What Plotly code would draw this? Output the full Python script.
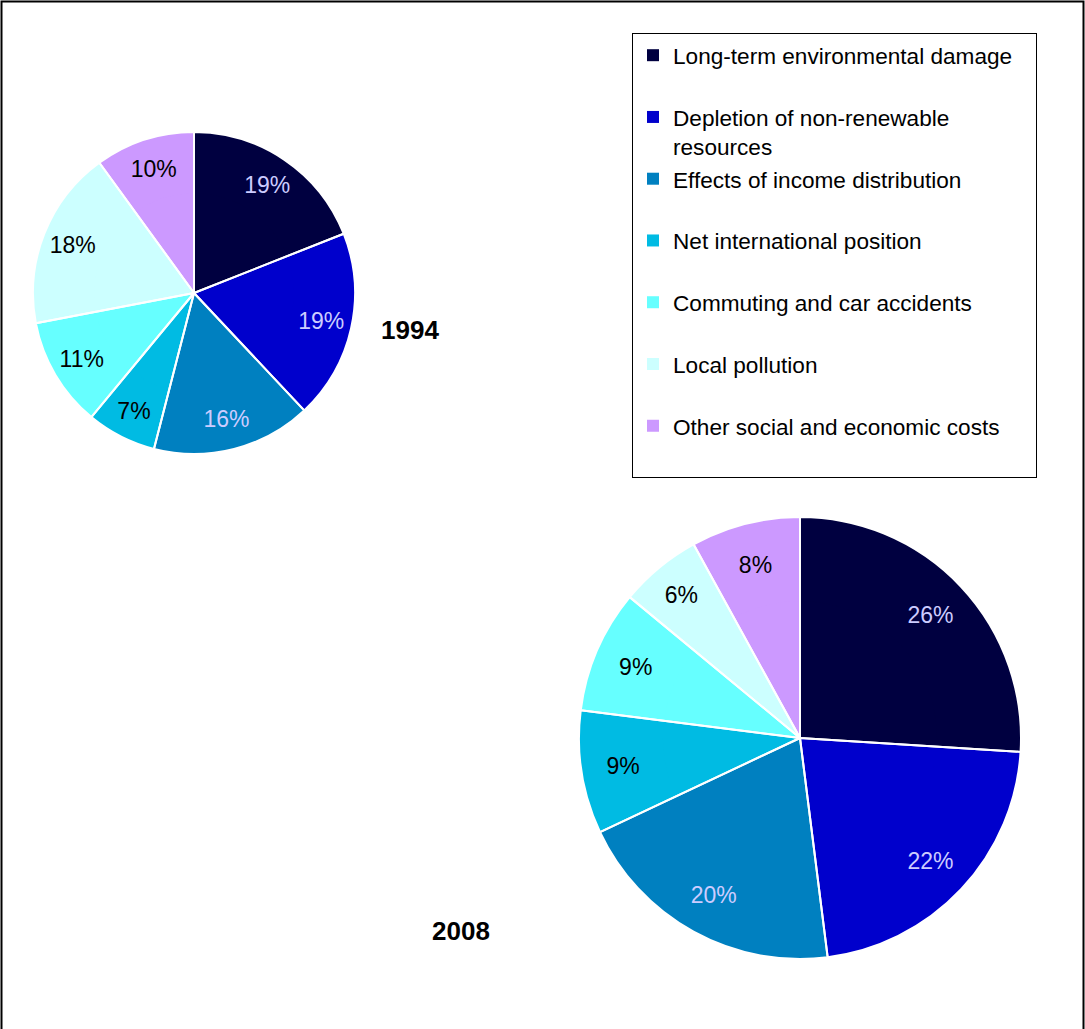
import plotly.graph_objects as go

categories = [
    "Long-term environmental damage",
    "Depletion of non-renewable<br>resources",
    "Effects of income distribution",
    "Net international position",
    "Commuting and car accidents",
    "Local pollution",
    "Other social and economic costs",
]
values_1994 = [19, 19, 16, 7, 11, 18, 10]
values_2008 = [26, 22, 20, 9, 9, 6, 8]
years = ["1994", "2008"]

colors = ["#000040", "#0000CC", "#0080C0", "#00BBE3", "#66FFFF", "#CCFFFF", "#CC99FF"]
text_colors = ["#CCCCFF", "#CCCCFF", "#CCCCFF", "#000000", "#000000", "#000000", "#000000"]

W, H = 1085, 1029
FONT = "Liberation Sans, Arial, sans-serif"

# legend labels padded to two lines so rows are evenly spaced
PAD = "\u00a0\u00a0\u00a0"
legend_labels = []
for c in categories:
    if "<br>" in c:
        a, b = c.split("<br>", 1)
        legend_labels.append(a + PAD + "<br>" + b)
    else:
        legend_labels.append(c + PAD + "<br> ")


def dom(cx, cy, r):
    return dict(x=[(cx - r) / W, (cx + r) / W], y=[1 - (cy + r) / H, 1 - (cy - r) / H])


common = dict(labels=legend_labels, sort=False, direction="clockwise", rotation=0)

fig = go.Figure()
for vals, d, show in [(values_1994, dom(194, 293, 161), True), (values_2008, dom(800, 738, 221), False)]:
    # filled pie (no labels)
    fig.add_trace(go.Pie(values=vals, domain=d, **common,
                         marker=dict(colors=colors, line=dict(width=0)),
                         textinfo="none", hoverinfo="skip", showlegend=False))
    # same pie as a ring, only to carry the percentage labels further out
    fig.add_trace(go.Pie(values=vals, domain=d, hole=0.62, **common,
                         marker=dict(colors=colors, line=dict(width=0)),
                         texttemplate="%{value}%",
                         textposition="inside",
                         insidetextorientation="horizontal",
                         textfont=dict(family=FONT, size=23, color=text_colors),
                         hoverinfo="label+percent", showlegend=show))
    # white slice separators on top
    fig.add_trace(go.Pie(values=vals, domain=d, **common,
                         marker=dict(colors=["rgba(0,0,0,0)"] * len(vals), line=dict(color="white", width=2)),
                         textinfo="none", hoverinfo="skip", showlegend=False))

fig.add_annotation(text="<b>" + years[0] + "</b>", x=410 / W, y=1 - 330 / H, xref="paper", yref="paper",
                   xanchor="center", yanchor="middle",
                   showarrow=False, font=dict(family=FONT, size=26, color="black"))
fig.add_annotation(text="<b>" + years[1] + "</b>", x=461 / W, y=1 - 931 / H, xref="paper", yref="paper",
                   xanchor="center", yanchor="middle",
                   showarrow=False, font=dict(family=FONT, size=26, color="black"))

fig.add_shape(type="rect", xref="paper", yref="paper", x0=1.5 / W, x1=1 - 1.5 / W, y0=-0.02, y1=1 - 1.5 / H,
              line=dict(color="black", width=2), fillcolor="rgba(0,0,0,0)")

fig.update_layout(
    width=W, height=H,
    margin=dict(l=0, r=0, t=0, b=0),
    paper_bgcolor="white",
    plot_bgcolor="white",
    font=dict(family=FONT, color="black"),
    legend=dict(
        x=632 / W, y=1 - 33 / H, xanchor="left", yanchor="top",
        bordercolor="black", borderwidth=1,
        font=dict(family=FONT, size=22.6, color="black"),
        valign="top",
        traceorder="normal",
        bgcolor="white",
    ),
)

fig.write_html("out.html", config={"displayModeBar": False},
               post_script="document.body.style.margin='0';document.body.style.overflow='hidden';")
